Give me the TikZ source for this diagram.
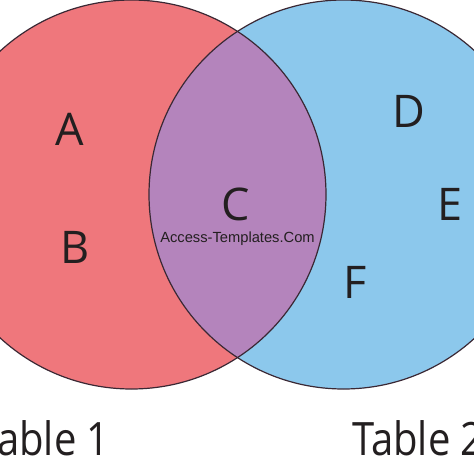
\documentclass[tikz,border=0pt]{standalone}
\usepackage{fontspec}
\setmainfont{Open Sans}
\newfontfamily\wmfont{Liberation Sans}
\definecolor{vred}{RGB}{239,119,124}
\definecolor{vblue}{RGB}{140,200,236}
\definecolor{vpurple}{RGB}{180,132,188}
\definecolor{vline}{RGB}{58,40,52}
\definecolor{vtext}{RGB}{35,31,32}
\tikzset{
  setlabel/.style={anchor=base, inner sep=0pt, text=vtext, font=\fontsize{45}{54}\selectfont},
  tablelabel/.style={inner sep=0pt, text=vtext, font=\fontsize{46}{54}\selectfont},
  watermark/.style={anchor=base, inner sep=0pt, text=vtext, font=\wmfont\fontsize{14.7}{18}\selectfont},
  outline/.style={draw=vline, line width=1.2pt}
}
\begin{document}
\begin{tikzpicture}[x=1pt,y=-1pt]
\useasboundingbox (0,0) rectangle (474,474);
\fill[white] (0,0) rectangle (474,474);
\begin{scope}
\clip (0,0) rectangle (474,474);
\coordinate (lc) at (131.5,194.5);
\coordinate (rc) at (343.5,194.5);
\fill[vred] (lc) circle [radius=194.5pt];
\fill[vblue] (rc) circle [radius=194.5pt];
\begin{scope}
\clip (lc) circle [radius=194.5pt];
\fill[vpurple] (rc) circle [radius=194.5pt];
\end{scope}
\draw[outline] (lc) circle [radius=194.5pt];
\draw[outline] (rc) circle [radius=194.5pt];
\node[setlabel] (A) at (70,145) {A};
\node[setlabel] (B) at (75,263) {B};
\node[setlabel] (C) at (236,220) {C};
\node[setlabel] (D) at (409,127) {D};
\node[setlabel] (E) at (450,220) {E};
\node[setlabel] (F) at (355,298) {F};
\node[watermark] (W) at (237.5,242) {Access-Templates.Com};
\node[tablelabel, anchor=base east] (T1) at (110,455) {\scalebox{0.87}[1]{Table 1}};
\node[tablelabel, anchor=base west] (T2) at (352,455) {\scalebox{0.87}[1]{Table 2}};
\end{scope}
\end{tikzpicture}
\end{document}
